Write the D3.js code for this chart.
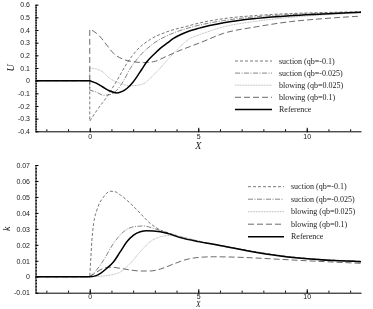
<!DOCTYPE html>
<html>
<head>
<meta charset="utf-8">
<script src="https://cdn.jsdelivr.net/npm/d3@7"></script>
<style>
  body { margin: 0; background: #fff; }
  svg { display: block; will-change: transform; }
  text { -webkit-font-smoothing: antialiased; }
  .tick text { font-family: "Liberation Sans", Arial, sans-serif; font-size: 7px; fill: #222; }
  .legend text { font-family: "Liberation Serif", "Times New Roman", serif; font-size: 8px; fill: #222; }
  .axlabel { font-family: "Liberation Serif", "Times New Roman", serif; font-style: italic; font-size: 10px; fill: #222; }
</style>
</head>
<body>
<div id="vis"></div>
<script>
// series names (legend order)
const seriesNames = ['suction (qb=-0.1)', 'suction (qb=-0.025)', 'blowing (qb=0.025)', 'blowing (qb=0.1)', 'Reference']

// upper panel: U along X, each series starts at x=0 (after the flat upstream part)
const uSucA = [[0,-0.32],[0.33,-0.234],[0.79,-0.128],[1.25,0],[1.71,0.136],[2.17,0.24],[2.79,0.326],[3.56,0.386],[4.48,0.43],[5.09,0.457],[6.17,0.49],[7.7,0.515],[9.24,0.53],[10.77,0.538],[12.5,0.545]]
const uSucB = [[0,-0.075],[0.3,-0.09],[0.64,-0.115],[0.94,-0.11],[1.25,-0.075],[1.56,0],[1.87,0.097],[2.33,0.2],[2.94,0.294],[3.71,0.366],[4.48,0.413],[5.09,0.44],[6.17,0.475],[7.7,0.505],[9.24,0.522],[10.77,0.532],[12.5,0.54]]
const uBlowA = [[0,0.1],[0.5,0.08],[0.94,0.017],[1.41,-0.022],[1.87,-0.04],[2.33,-0.033],[2.63,-0.007],[2.79,0.02],[3.2,0.09],[3.56,0.16],[4.17,0.27],[4.63,0.334],[5.1,0.365],[6.17,0.425],[7.7,0.47],[9.24,0.5],[10.77,0.52],[12.5,0.535]]
const uBlowB = [[0,0.405],[0.18,0.39],[0.48,0.347],[0.79,0.28],[1.1,0.215],[1.56,0.168],[2.02,0.149],[2.48,0.143],[2.94,0.15],[3.56,0.194],[4.17,0.24],[4.63,0.27],[5.09,0.3],[6.17,0.374],[7.7,0.426],[9.24,0.466],[10.77,0.49],[12.5,0.51]]
const uRef = [[0,0],[0.3,-0.02],[0.6,-0.05],[0.9,-0.08],[1.25,-0.097],[1.5,-0.085],[1.71,-0.062],[2.0,-0.01],[2.17,0.03],[2.4,0.09],[2.63,0.149],[3.0,0.215],[3.25,0.255],[3.6,0.3],[3.86,0.334],[4.2,0.365],[4.5,0.386],[5.0,0.413],[6.17,0.458],[7.7,0.492],[9.24,0.513],[10.77,0.526],[12.5,0.54]]

// lower panel: k along X
const kSucA = [[0,0],[0.05,0.012],[0.1,0.023],[0.18,0.0334],[0.33,0.0418],[0.64,0.05],[0.94,0.0535],[1.1,0.0535],[1.41,0.0512],[1.87,0.046],[2.33,0.0397],[2.79,0.0334],[3.25,0.0293],[3.6,0.0276],[4.17,0.0252],[5.0,0.0224],[7.24,0.0166],[8.78,0.0133],[10.31,0.0112],[12.5,0.0097]]
const kSucB = [[0,0],[0.3,0.004],[0.64,0.0105],[1.1,0.021],[1.56,0.0282],[2.02,0.0313],[2.48,0.0318],[2.94,0.0303],[3.4,0.0283],[4.17,0.0249],[5.0,0.0223],[7.24,0.0165],[8.78,0.0132],[10.31,0.0111],[12.5,0.0096]]
const kBlowA = [[0,0],[0.5,0.0003],[1.0,0.0012],[1.41,0.003],[1.87,0.0084],[2.33,0.0157],[2.79,0.022],[3.25,0.025],[3.71,0.0258],[4.17,0.0252],[4.6,0.0236],[5.0,0.0222],[7.24,0.0164],[8.78,0.0131],[10.31,0.011],[12.5,0.0095]]
const kBlowB = [[0,0],[0.33,0.003],[0.64,0.0053],[0.94,0.006],[1.41,0.0053],[1.87,0.0042],[2.33,0.0036],[2.79,0.0036],[3.25,0.0048],[3.86,0.008],[4.48,0.0109],[5.01,0.0121],[5.71,0.0125],[7.24,0.012],[8.78,0.0109],[10.31,0.0098],[12.5,0.0084]]
const kRef = [[0,0],[0.3,0.0007],[0.48,0.002],[0.79,0.0053],[1.1,0.0094],[1.41,0.0157],[1.71,0.0219],[2.02,0.0261],[2.33,0.0282],[2.63,0.0288],[2.94,0.0286],[3.56,0.0272],[4.17,0.0245],[5.0,0.022],[5.71,0.0203],[7.24,0.0163],[8.78,0.013],[10.31,0.0109],[12.5,0.0094]]

const xMajor = [0, 5, 10]
const uTicks = [-0.4,-0.3,-0.2,-0.1,0,0.1,0.2,0.3,0.4,0.5,0.6]
const kTicks = [-0.01,0,0.01,0.02,0.03,0.04,0.05,0.06,0.07]

// line styles, same order as seriesNames
const styles = [
  {color: '#555', dash: '3,2', w: 0.8},
  {color: '#666', dash: '5,1.5,1,1.5', w: 0.8},
  {color: '#b4b4b4', dash: '1,0.6', w: 0.9},
  {color: '#444', dash: '6,3', w: 0.8},
  {color: '#000', dash: null, w: 1.5}
]

const W = 373, H = 309
const svg = d3.select('#vis').append('svg').attr('width', W).attr('height', H)

const x = d3.scaleLinear().domain([-2.5, 12.5]).range([35.5, 361])

function panel(opts){
  const y = d3.scaleLinear().domain(opts.ydom).range(opts.yrange)
  const g = svg.append('g')

  // minor ticks
  g.append('g').attr('transform', `translate(0,${opts.yrange[0]})`)
    .call(d3.axisBottom(x).tickValues(d3.range(-2, 13, 1)).tickSize(-2).tickFormat(''))
    .call(a => a.select('.domain').remove())
  g.append('g').attr('transform', `translate(${x.range()[0]},0)`)
    .call(d3.axisLeft(y).tickValues(d3.range(0, Math.round((opts.ydom[1]-opts.ydom[0])/opts.minor)+1).map(i => opts.ydom[0] + i*opts.minor)).tickSize(-1.5).tickFormat(''))
    .call(a => a.select('.domain').remove())

  // major axes
  const xa = g.append('g').attr('transform', `translate(0,${opts.yrange[0]})`)
    .call(d3.axisBottom(x).tickValues(xMajor).tickSizeInner(-3.5).tickSizeOuter(0).tickPadding(opts.xpad).tickFormat(d => d))
  xa.selectAll('.tick line').attr('y2', -3.5).attr('y1', 1)
  g.append('g').attr('transform', `translate(${x.range()[0]},0)`)
    .call(d3.axisLeft(y).tickValues(opts.ticks).tickSizeInner(-3).tickSizeOuter(0).tickPadding(5.5).tickFormat(opts.fmt))

  g.selectAll('.domain').attr('stroke', '#000').attr('stroke-width', 1)

  const line = d3.line().x(d => x(d[0])).y(d => y(d[1])).curve(d3.curveMonotoneX)
  opts.series.forEach((s, i) => {
    const st = styles[i]
    // flat upstream part, then jump at x=0, then the curve
    const p = `M${x(-2.5)},${y(0)}L${x(0)},${y(0)}` + line(s).replace(/^M/, 'L')
    g.append('path').attr('d', p)
      .attr('fill', 'none')
      .attr('stroke', st.color)
      .attr('stroke-width', st.w)
      .attr('stroke-dasharray', st.dash)
  })

  // legend
  const lg = g.append('g').attr('class', 'legend')
  seriesNames.forEach((n, i) => {
    const st = styles[i]
    const yy = opts.leg.y + i*opts.leg.dy
    lg.append('line').attr('x1', opts.leg.x).attr('x2', opts.leg.x + opts.leg.len)
      .attr('y1', yy).attr('y2', yy)
      .attr('stroke', st.color).attr('stroke-width', st.w).attr('stroke-dasharray', st.dash)
    lg.append('text').attr('x', opts.leg.x + opts.leg.len + 7).attr('y', yy).attr('dy', '0.33em').text(n)
  })

  // axis labels
  g.append('text').attr('class', 'axlabel')
    .attr('transform', `translate(${opts.ylabX},${(opts.yrange[0]+opts.yrange[1])/2}) rotate(-90)`)
    .attr('text-anchor', 'middle').attr('dy', '0.33em').text(opts.ylab)
  g.append('text').attr('class', 'axlabel')
    .attr('x', (x.range()[0] + x.range()[1]) / 2).attr('y', opts.yrange[0] + opts.xlabDy)
    .attr('text-anchor', 'middle').style('font-size', opts.xlabSize).text('X')
}

panel({
  ydom: [-0.4, 0.6], yrange: [131.3, 4.7], ticks: uTicks, minor: 0.02,
  fmt: d => String(+d.toFixed(2)), xpad: 2.5,
  series: [uSucA, uSucB, uBlowA, uBlowB, uRef],
  leg: {x: 235, y: 61, dy: 12.1, len: 37},
  ylab: 'U', ylabX: 10.5, xlabDy: 17.5, xlabSize: '10px'
})

panel({
  ydom: [-0.01, 0.07], yrange: [292.7, 165], ticks: kTicks, minor: 0.002,
  fmt: d => String(+d.toFixed(3)), xpad: 1,
  series: [kSucA, kSucB, kBlowA, kBlowB, kRef],
  leg: {x: 248, y: 186.7, dy: 12.5, len: 36},
  ylab: 'k', ylabX: 7, xlabDy: 14.6, xlabSize: '7.5px'
})
</script>
</body>
</html>
